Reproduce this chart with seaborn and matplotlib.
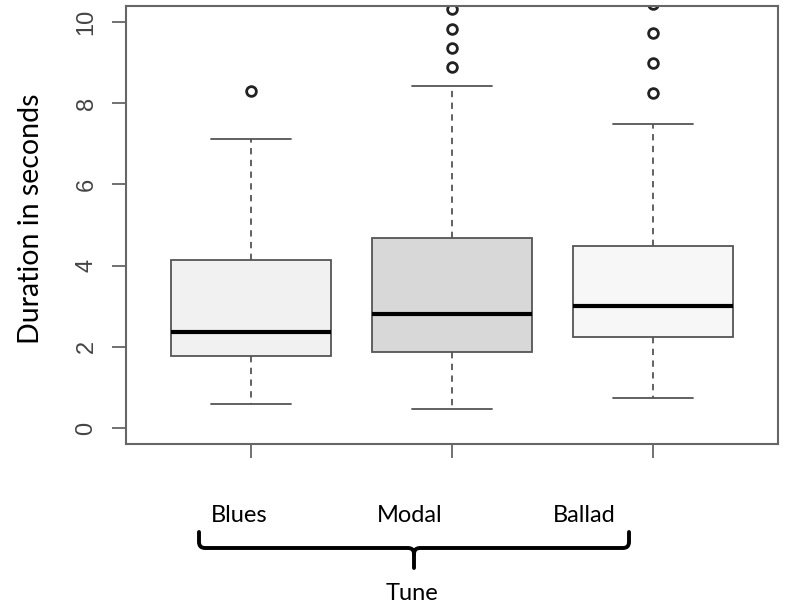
import numpy as np
import pandas as pd
import matplotlib
matplotlib.use("Agg")
import matplotlib.pyplot as plt
import seaborn as sns
from matplotlib.path import Path
from matplotlib.patches import PathPatch

# ---- data ----
categories = ["Blues", "Modal", "Ballad"]
whisker_low = [0.58, 0.46, 0.75]
q1 = [1.77, 1.87, 2.25]
median = [2.36, 2.81, 3.00]
q3 = [4.15, 4.67, 4.48]
whisker_high = [7.12, 8.42, 7.49]
outliers = [[8.31], [8.89, 9.35, 9.82, 10.31], [8.24, 8.99, 9.74, 10.45]]
box_colors = ["#f1f1f1", "#d8d8d8", "#f7f7f7"]
y_ticks = [0, 2, 4, 6, 8, 10]
y_label = "Duration in seconds"
x_label = "Tune"

# Build a sample per group whose quartiles / whiskers / outliers equal the read values
rows = []
for cat, lo, a, m, b, hi, out in zip(categories, whisker_low, q1, median, q3,
                                     whisker_high, outliers):
    k = 1 + len(out)
    vals = [lo] + [a] * k + [m] * k + [b] * k + [hi] + list(out)
    rows += [(cat, v) for v in vals]
df = pd.DataFrame(rows, columns=["tune", "duration"])

sns.set_theme(style="white")
plt.rcParams["font.family"] = ["Liberation Sans", "DejaVu Sans"]

W, H = 786, 605
fig = plt.figure(figsize=(W / 100, H / 100), dpi=100)
ax = fig.add_axes([126 / W, 1 - 444 / H, (778 - 126) / W, (444 - 6) / H])

sns.boxplot(
    data=df, x="tune", y="duration", hue="tune", order=categories,
    hue_order=categories, palette=box_colors, saturation=1, legend=False,
    width=0.8, whis=1.45, linecolor="#555555", linewidth=1.3, ax=ax,
    medianprops={"color": "black", "linewidth": 3.0},
    whiskerprops={"linestyle": (0, (3.5, 3)), "color": "#555555"},
    capprops={"color": "#555555"},
    flierprops={"marker": "o", "markersize": 7, "markeredgewidth": 2,
                "markeredgecolor": "#222222", "markerfacecolor": "none"},
)

ax.set_xlim(-0.622, 2.622)
ax.set_ylim(-0.394, 10.394)
ax.set_xlabel("")
ax.set_ylabel("")
ax.set_xticks(range(len(categories)))
ax.set_xticklabels([""] * len(categories))
ax.set_yticks(y_ticks)
ax.set_yticklabels([str(t) for t in y_ticks], rotation=90, va="center",
                   fontsize=17, color="#444444")
ax.tick_params(axis="both", length=10, width=1.3, colors="#666666",
               direction="out", left=True, bottom=True)
ax.tick_params(axis="y", pad=10.5, labelcolor="#444444")
for sp in ax.spines.values():
    sp.set_visible(True)
    sp.set_color("#666666")
    sp.set_linewidth(1.5)

ax.set_ylabel(y_label, fontsize=20.5, family=["Lato", "DejaVu Sans"], color="black")
ax.yaxis.set_label_coords(-0.126, 0.515)

def fp(x, y):
    return (x / W, 1 - y / H)

lab_font = dict(fontsize=17, family=["Lato", "DejaVu Sans"], color="black",
                ha="center", va="center")
for cat, xc in zip(categories, [239, 410, 584]):
    fig.text(*fp(xc, 516), cat, **lab_font)
fig.text(*fp(412, 593), x_label, **lab_font)

verts = [fp(199, 532), fp(199, 542), fp(199, 548), fp(205, 548), fp(408, 548),
         fp(414, 548), fp(414, 554), fp(414, 568),
         fp(629, 532), fp(629, 542), fp(629, 548), fp(623, 548), fp(420, 548),
         fp(414, 548), fp(414, 554)]
codes = [Path.MOVETO, Path.LINETO, Path.CURVE3, Path.CURVE3, Path.LINETO,
         Path.CURVE3, Path.CURVE3, Path.LINETO,
         Path.MOVETO, Path.LINETO, Path.CURVE3, Path.CURVE3, Path.LINETO,
         Path.CURVE3, Path.CURVE3]
brace = PathPatch(Path(verts, codes), transform=fig.transFigure, fill=False,
                  edgecolor="black", linewidth=2.8, capstyle="round",
                  joinstyle="round")
fig.add_artist(brace)

fig.savefig("out.png", dpi=100)
